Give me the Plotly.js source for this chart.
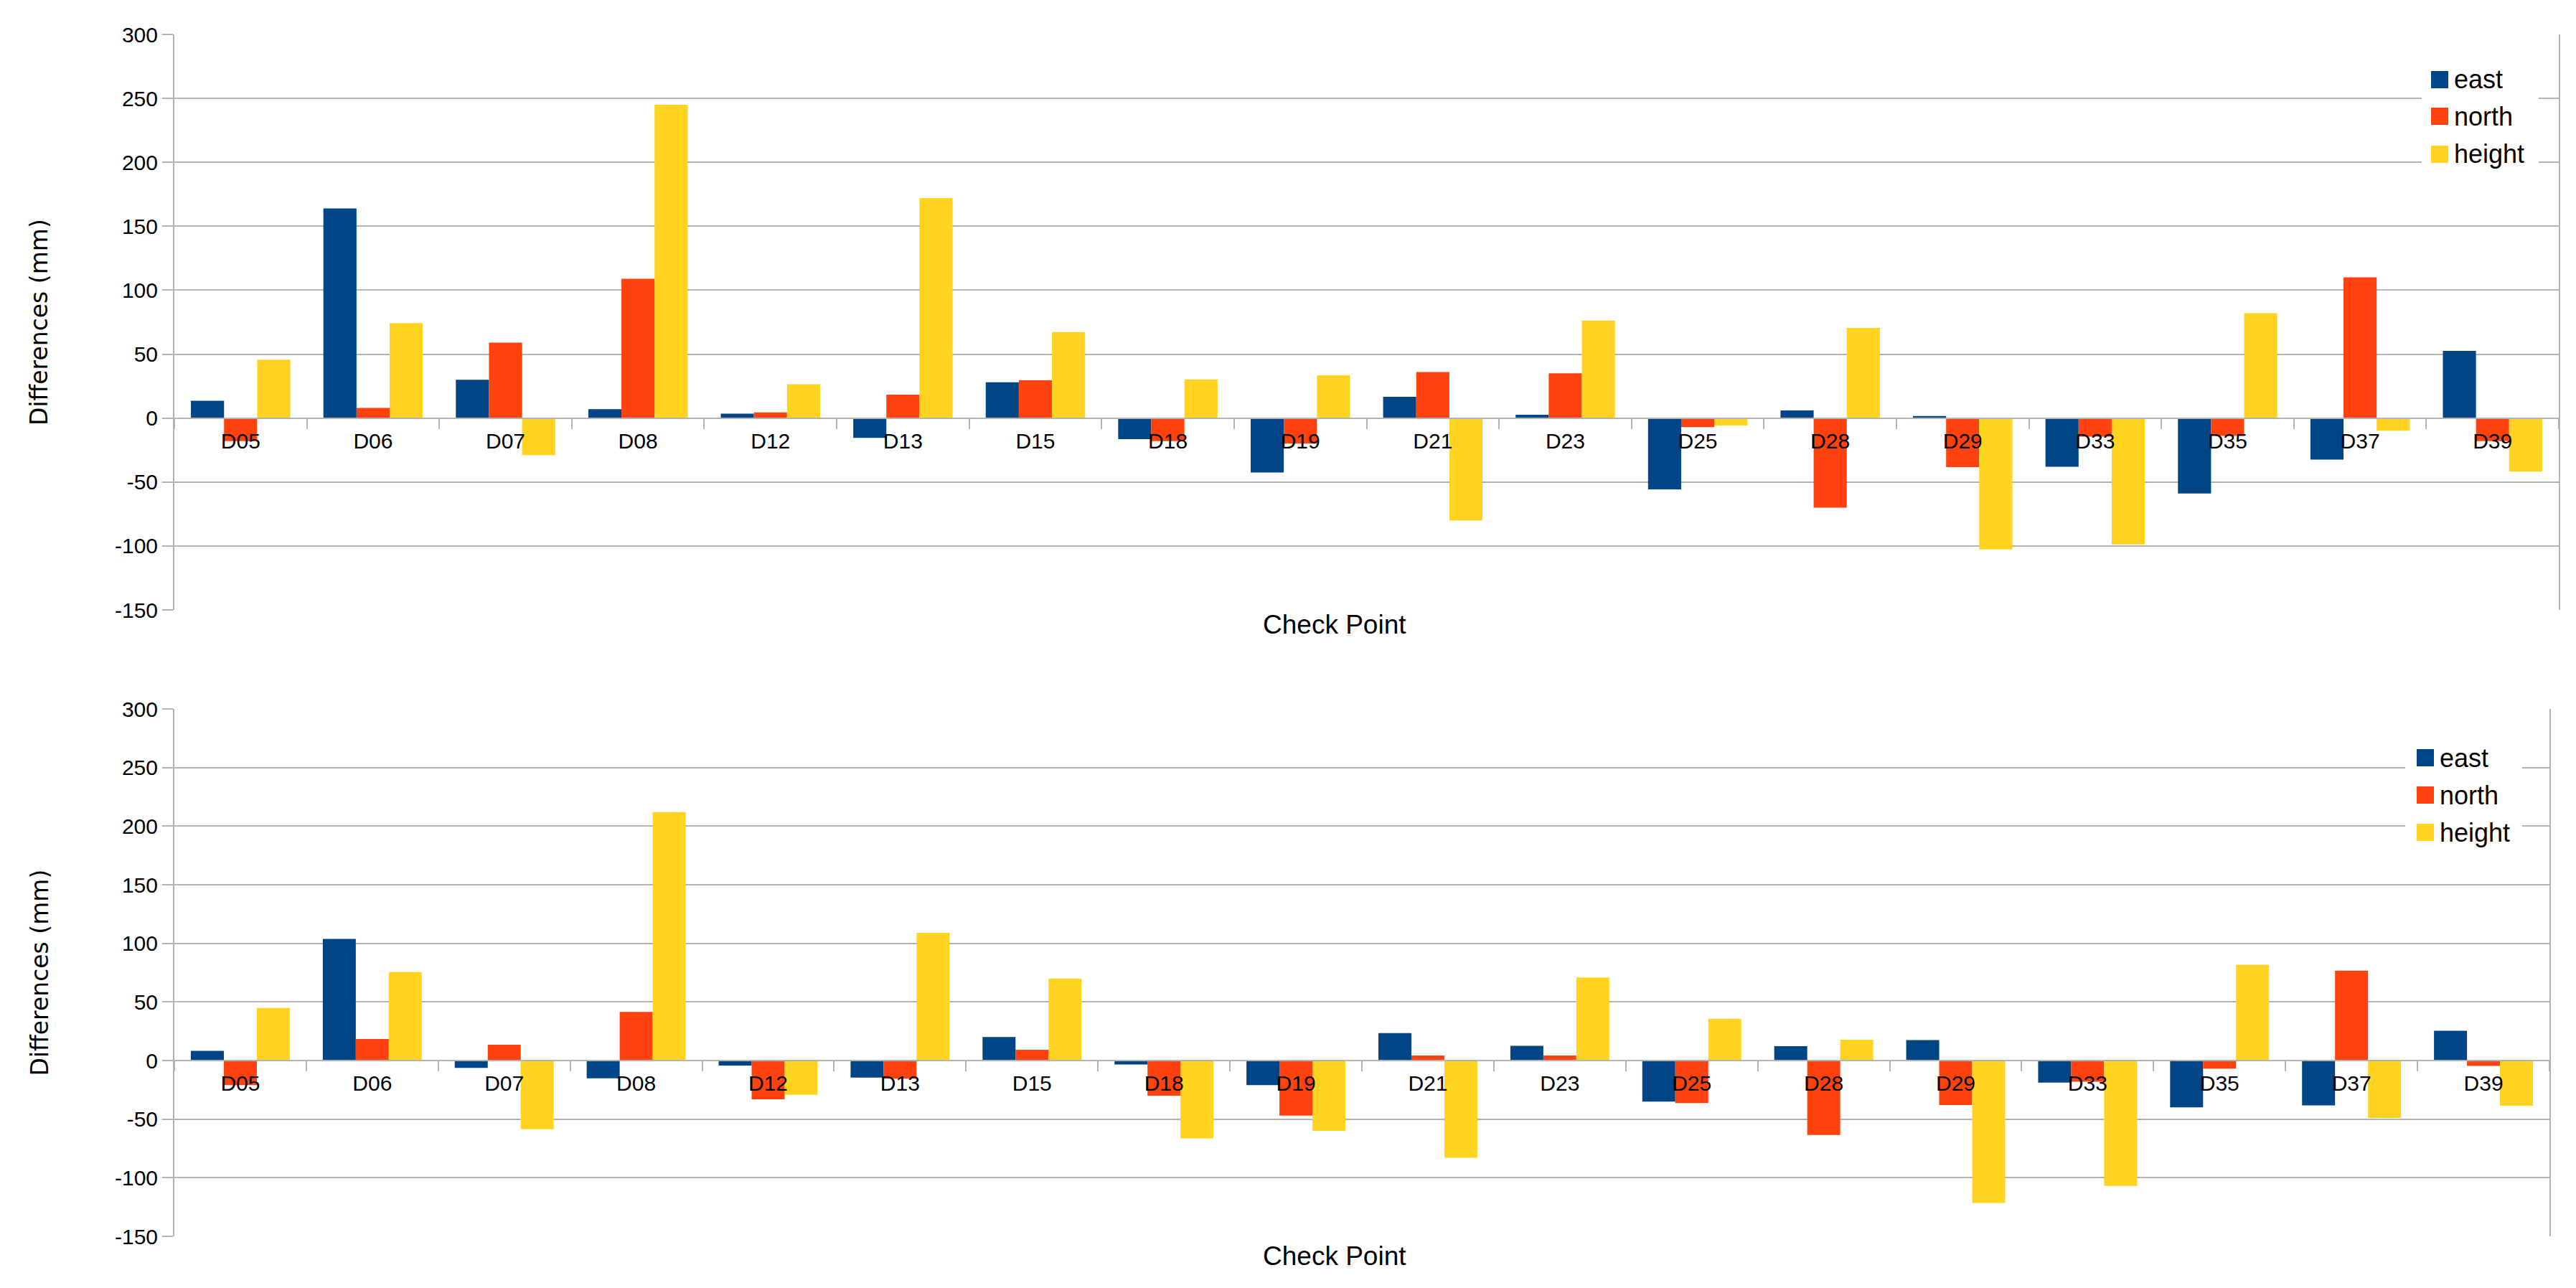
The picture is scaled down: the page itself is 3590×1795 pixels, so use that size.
<!DOCTYPE html>
<html>
<head>
<meta charset="utf-8">
<script src="https://cdn.plot.ly/plotly-3.0.1.min.js"></script>
<style>
  html, body { margin: 0; padding: 0; background: #ffffff; }
  #chart { width: 3590px; height: 1795px; }
</style>
</head>
<body>
<div id="chart"></div>
<script>
// check points and differences (mm)
const checkPoints = ['D05', 'D06', 'D07', 'D08', 'D12', 'D13', 'D15', 'D18', 'D19',
                     'D21', 'D23', 'D25', 'D28', 'D29', 'D33', 'D35', 'D37', 'D39'];
const seriesNames = ['east', 'north', 'height'];

// upper chart
const eastTop   = [13.5, 164, 30, 7, 3.5, -15.5, 28, -16.4, -42.5, 16.7, 2.6, -55.7, 6, 1.6, -38, -59, -32.5, 52.5];
const northTop  = [-18, 8, 59, 109, 4.5, 18.3, 29.6, -18, -20, 36, 35, -7, -70, -38.3, -14.5, -14, 110, -18];
const heightTop = [45.7, 74.3, -29, 245, 26.4, 172, 67.3, 30.3, 33.5, -80, 76.3, -5.8, 70.5, -102.7, -98.8, 82, -9.8, -41.9];

// lower chart
const eastBottom   = [8.2, 103.7, -6.3, -15.1, -4.3, -14.5, 20, -3.3, -21, 23.4, 12.5, -35, 12.2, 17.5, -18.9, -40, -38.2, 25.4];
const northBottom  = [-21, 18.4, 13.5, 41.5, -33, -15.5, 9.2, -30, -47, 4.3, 4.3, -36.2, -63.5, -37.9, -18, -6.9, 76.7, -4.6];
const heightBottom = [44.8, 75.4, -58.6, 212, -29.3, 109, 70, -66.5, -60, -83, 70.8, 35.6, 17.8, -121.5, -107, 81.7, -49, -38.5];

const yTicks = [-150, -100, -50, 0, 50, 100, 150, 200, 250, 300];

const colors = ['#004586', '#ff420e', '#ffd320'];
const gridColor = '#b3b3b3';
const W = 3590, H = 1795;

// pixel -> paper helpers
const px = x => x / W;
const py = y => 1 - y / H;

// plot areas in pixels
const boxes = [
    { left: 243, right: 3566, top: 48, bottom: 850, legendX: 3388, legendY: [111, 162, 215],
      legendBg: [3375, 80, 3538, 240], titleY: 870 },
    { left: 243, right: 3553, top: 988, bottom: 1723, legendX: 3368, legendY: [1056, 1108, 1160],
      legendBg: [3352, 1030, 3515, 1185], titleY: 1750 }
];

const yRange = [-150, 300];
const zeroFrac = (0 - yRange[0]) / (yRange[1] - yRange[0]);

function barTrace(name, values, idx, sub) {
    return {
        type: 'bar',
        name: name,
        x: checkPoints,
        y: values,
        xaxis: sub === 0 ? 'x' : 'x2',
        yaxis: sub === 0 ? 'y' : 'y2',
        marker: { color: colors[idx], line: { width: 0 } },
        showlegend: false,
        hoverinfo: 'x+y+name'
    };
}

const traces = [
    barTrace(seriesNames[0], eastTop, 0, 0),
    barTrace(seriesNames[1], northTop, 1, 0),
    barTrace(seriesNames[2], heightTop, 2, 0),
    barTrace(seriesNames[0], eastBottom, 0, 1),
    barTrace(seriesNames[1], northBottom, 1, 1),
    barTrace(seriesNames[2], heightBottom, 2, 1)
];

const tickFont = { family: 'Liberation Sans, Arial, sans-serif', size: 30, color: '#000000' };

function xAxis(b, yDomain) {
    return {
        type: 'category',
        domain: [px(b.left), px(b.right)],
        anchor: 'free',
        position: yDomain[0] + (yDomain[1] - yDomain[0]) * zeroFrac,
        showline: true,
        linecolor: gridColor,
        linewidth: 2,
        showgrid: false,
        ticks: 'outside',
        tickson: 'boundaries',
        ticklen: 14,
        tickwidth: 2,
        tickcolor: gridColor,
        tickfont: tickFont,
        ticklabelstandoff: 5,
        fixedrange: true
    };
}

function yAxis(b, anchor) {
    return {
        domain: [py(b.bottom), py(b.top)],
        anchor: anchor,
        range: yRange,
        tickvals: yTicks,
        ticktext: yTicks.map(String),
        showgrid: true,
        gridcolor: gridColor,
        gridwidth: 2,
        zeroline: false,
        showline: true,
        mirror: true,
        linecolor: gridColor,
        linewidth: 2,
        ticks: 'outside',
        ticklen: 15,
        tickwidth: 2,
        tickcolor: gridColor,
        tickfont: tickFont,
        fixedrange: true
    };
}

const yDom0 = [py(boxes[0].bottom), py(boxes[0].top)];
const yDom1 = [py(boxes[1].bottom), py(boxes[1].top)];

const shapes = [];
const annotations = [];

boxes.forEach(b => {
    // y axis title
    annotations.push({
        xref: 'paper', yref: 'paper',
        x: px(55), y: py((b.top + b.bottom) / 2),
        text: 'Differences (mm)', textangle: -90, showarrow: false,
        font: { family: 'DejaVu Sans, sans-serif', size: 33, color: '#000000' },
        xanchor: 'center', yanchor: 'middle'
    });
    // x axis title
    annotations.push({
        xref: 'paper', yref: 'paper',
        x: px(1860), y: py(b.titleY),
        text: 'Check Point', showarrow: false,
        font: { family: 'Liberation Sans, Arial, sans-serif', size: 37, color: '#000000' },
        xanchor: 'center', yanchor: 'middle'
    });
    // legend
    const bg = b.legendBg;
    shapes.push({
        type: 'rect', xref: 'paper', yref: 'paper', layer: 'above',
        x0: px(bg[0]), x1: px(bg[2]), y0: py(bg[3]), y1: py(bg[1]),
        fillcolor: '#ffffff', line: { width: 0 }
    });
    seriesNames.forEach((name, i) => {
        const cy = b.legendY[i];
        shapes.push({
            type: 'rect', xref: 'paper', yref: 'paper', layer: 'above',
            x0: px(b.legendX), x1: px(b.legendX + 24), y0: py(cy + 12), y1: py(cy - 12),
            fillcolor: colors[i], line: { width: 0 }
        });
        annotations.push({
            xref: 'paper', yref: 'paper',
            x: px(b.legendX + 30), y: py(cy),
            text: name, showarrow: false,
            font: { family: 'Liberation Sans, Arial, sans-serif', size: 36, color: '#000000' },
            xanchor: 'left', yanchor: 'middle'
        });
    });
});

const layout = {
    width: W,
    height: H,
    paper_bgcolor: '#ffffff',
    plot_bgcolor: '#ffffff',
    margin: { l: 0, r: 0, t: 0, b: 0 },
    barmode: 'group',
    bargap: 0.25,
    bargroupgap: 0,
    showlegend: false,
    xaxis: xAxis(boxes[0], yDom0),
    yaxis: yAxis(boxes[0], 'x'),
    xaxis2: xAxis(boxes[1], yDom1),
    yaxis2: yAxis(boxes[1], 'x2'),
    shapes: shapes,
    annotations: annotations
};

Plotly.newPlot('chart', traces, layout, { responsive: false, displayModeBar: false, staticPlot: true });
</script>
</body>
</html>
